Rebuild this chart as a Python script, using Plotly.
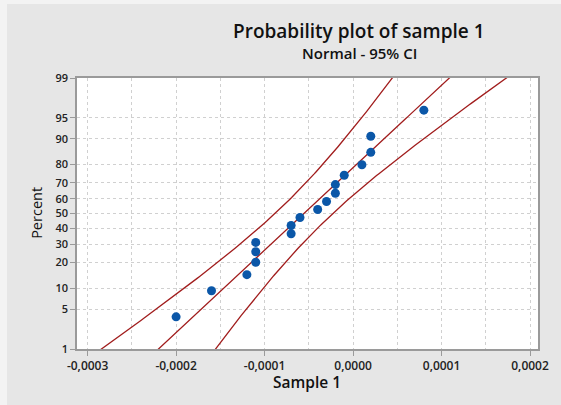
import numpy as np
import plotly.graph_objects as go
from statistics import NormalDist

# ---- data ----
sample_1 = [-0.00020, -0.00016, -0.00012, -0.00011, -0.00011, -0.00011,
            -0.00007, -0.00007, -0.00006, -0.00004, -0.00003, -0.00002,
            -0.00002, -0.00001, 0.00001, 0.00002, 0.00002, 0.00008]
y_tick_pct = [1, 5, 10, 20, 30, 40, 50, 60, 70, 80, 90, 95, 99]
x_tick_vals = [-0.0003, -0.0002, -0.0001, 0.0, 0.0001, 0.0002]
x_tick_text = ["-0,0003", "-0,0002", "-0,0001", "0,0000", "0,0001", "0,0002"]

nd = NormalDist()
x = np.sort(np.array(sample_1))
n = len(x)
ranks = np.arange(1, n + 1)
p_plot = (ranks - 0.3) / (n + 0.4)          # median ranks
z_pts = np.array([nd.inv_cdf(p) for p in p_plot])

mu = x.mean()
s = x.std(ddof=1)
z_line = np.linspace(nd.inv_cdf(0.002), nd.inv_cdf(0.998), 200)
x_fit = mu + z_line * s
half = 1.96 * s * np.sqrt(1.0 / n + z_line ** 2 / (2.0 * (n - 1)))
x_lo = x_fit - half
x_hi = x_fit + half

line_col = "#a11d1d"
dot_col = "#0b57a8"

fig = go.Figure()
for xs in (x_lo, x_fit, x_hi):
    fig.add_trace(go.Scatter(x=xs, y=z_line, mode="lines",
                             line=dict(color=line_col, width=1.3),
                             hoverinfo="skip", showlegend=False))
fig.add_trace(go.Scatter(x=x, y=z_pts, mode="markers",
                         marker=dict(color=dot_col, size=9),
                         showlegend=False))

font_fam = "Open Sans"
x_tick_font = dict(family=font_fam, size=12, color="#222222", weight=600)
y_tick_font = dict(family=font_fam, size=11, color="#222222", weight=600)

fig.update_layout(
    width=554, height=401,
    margin=dict(l=70, r=13, t=74, b=56),
    paper_bgcolor="#e6e6e6",
    plot_bgcolor="white",
    showlegend=False,
    xaxis=dict(
        range=[-0.000312, 0.000209],
        tickmode="array", tickvals=x_tick_vals, ticktext=x_tick_text,
        ticks="outside", ticklen=5, tickcolor="#9a9a9a",
        tickfont=x_tick_font,
        showgrid=True, gridcolor="#d0d0d0", griddash="dot", gridwidth=1,
        minor=dict(tickmode="linear", tick0=0, dtick=0.00005, showgrid=True,
                   gridcolor="#d0d0d0", griddash="dot", ticks=""),
        showline=True, linecolor="#9a9a9a", linewidth=1.5, mirror=True,
        zeroline=False,
    ),
    yaxis=dict(
        range=[nd.inv_cdf(0.01), nd.inv_cdf(0.99)],
        tickmode="array",
        tickvals=[nd.inv_cdf(p / 100.0) for p in y_tick_pct],
        ticktext=[str(p) for p in y_tick_pct],
        ticks="outside", ticklen=5, tickcolor="#9a9a9a",
        tickfont=y_tick_font,
        showgrid=True, gridcolor="#d0d0d0", griddash="dot", gridwidth=1,
        showline=True, linecolor="#9a9a9a", linewidth=1.5, mirror=True,
        zeroline=False,
    ),
    annotations=[
        dict(text="Probability plot of sample 1", xref="paper", yref="paper",
             x=0.611, y=1.175, showarrow=False, xanchor="center", yanchor="middle",
             borderpad=0,
             font=dict(family=font_fam, size=19, color="#111111", weight=600)),
        dict(text="Normal - 95% CI", xref="paper", yref="paper",
             x=0.613, y=1.092, showarrow=False, xanchor="center", yanchor="middle",
             borderpad=0,
             font=dict(family=font_fam, size=15, color="#111111", weight=600)),
        dict(text="Sample 1", xref="paper", yref="paper",
             x=0.498, y=-0.1218, showarrow=False, xanchor="center", yanchor="middle",
             font=dict(family=font_fam, size=15.5, color="#111111", weight=600)),
        dict(text="Percent", xref="paper", yref="paper", textangle=-90,
             x=-0.087, y=0.502, showarrow=False, xanchor="center", yanchor="middle",
             borderpad=0,
             font=dict(family=font_fam, size=14.5, color="#111111", weight=400)),
    ],
)

fig.write_html(
    "out.html",
    post_script="document.body.style.margin='4px 0 0 7px';"
                "document.body.style.background='#f3f3f3';",
)
